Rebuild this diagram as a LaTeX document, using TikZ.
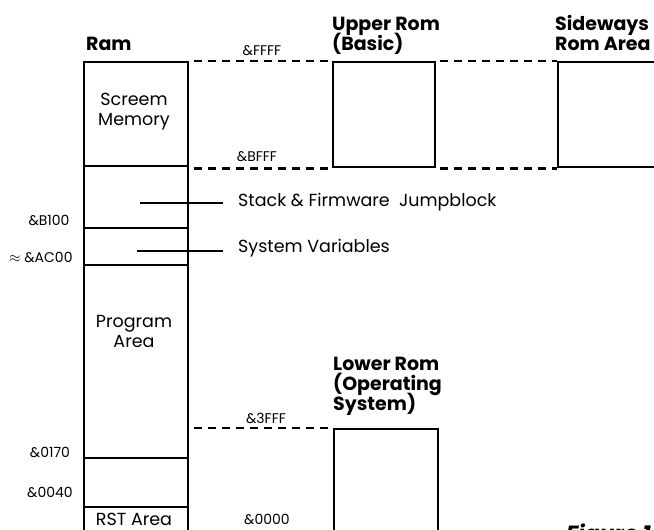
\documentclass[tikz,border=0pt]{standalone}
\usepackage{fontspec}
\setmainfont{Poppins}
\usetikzlibrary{positioning}
\newcommand\tightlines{\lineskiplimit=-20pt\relax}
\tikzset{
    mapline/.style={line width=2.4pt},
    gapline/.style={line width=2.4pt, dash pattern=on 8pt off 6pt},
    addr/.style={font=\fontsize{14}{16}\selectfont, inner sep=0pt, anchor=base},
    areatext/.style={font={\fontsize{17.5}{20}\selectfont\tightlines}, align=center, inner sep=0pt, anchor=base},
    romtitle/.style={font={\bfseries\fontsize{19}{20}\selectfont\tightlines}, align=left, inner sep=0pt, anchor=base west},
    romblock/.style={draw, mapline, inner sep=0pt, anchor=north west},
}
\begin{document}
\begin{tikzpicture}[x=1pt,y=-1pt]
    \useasboundingbox (0,0) rectangle (654,530);
    \begin{scope}
    \clip (0,0) rectangle (654,530);
    % the memory blocks
    \node[romblock, minimum width=104pt, minimum height=500pt] (ram) at (83,61) {};
    \node[romblock, minimum width=102pt, minimum height=105pt] (upper) at (332,61) {};
    \node[romblock, minimum width=160pt, minimum height=105pt] (side) at (557,61) {};
    \node[romblock, minimum width=104pt, minimum height=160pt] (lower) at (333,428) {};
    \foreach \y in {166,228,265,458,507}
        \draw[mapline] (ram.west |- 0,\y) -- (ram.east |- 0,\y);
    % dashed joins
    \draw[gapline] ([xshift=5pt]ram.north east) -- (upper.north west);
    \draw[gapline] ([xshift=5pt]ram.east |- upper.south west) -- (upper.south west);
    \draw[gapline] ([xshift=4pt]upper.north east) -- (side.north west);
    \draw[gapline] ([xshift=4pt]upper.south east) -- (side.south west);
    \draw[gapline] ([xshift=5pt]ram.east |- lower.north west) -- (lower.north west);
    % headings
    \node[romtitle] (ramtitle) at (86,50) {Ram};
    \node[romtitle] (uppertitle) at (332,50) {Upper Rom\\(Basic)};
    \node[romtitle] (sidetitle) at (555,50) {Sideways\\Rom Area};
    \node[romtitle] (lowertitle) at (333,410) {Lower Rom\\(Operating\\System)};
    % addresses
    \node[addr] (affff) at (262,56) {\&FFFF};
    \node[addr] (abfff) at (257,161) {\&BFFF};
    \node[addr] (ab100) at (49,225) {\&B100};
    \node[addr] (aac00) at (41,262) {$\approx$ \&AC00};
    \node[addr] (a0170) at (50,457) {\&0170};
    \node[addr] (a0040) at (50,497) {\&0040};
    \node[addr] (a3fff) at (266,423) {\&3FFF};
    \node[addr] (a0000) at (267,524) {\&0000};
    % areas
    \node[areatext] (screen) at (134,125) {Screem\\Memory};
    \node[areatext] (program) at (134,347) {Program\\Area};
    \node[areatext] (rst) at (134,525) {RST Area};
    \coordinate (stackend) at (140,203);
    \coordinate (varsend) at (137,251);
    \node[areatext, anchor=base west] (stack) at (238,206) {Stack \& Firmware\ \ Jumpblock};
    \node[areatext, anchor=base west] (vars) at (238,252) {System Variables};
    \draw[mapline] (stackend) -- (stackend -| 223,0);
    \draw[mapline] (varsend) -- (varsend -| 223,0);
    \node[font=\bfseries\itshape\fontsize{22}{24}\selectfont, inner sep=0pt, anchor=base west] (fig) at (566,541) {Figure 1};
    \end{scope}
\end{tikzpicture}
\end{document}
